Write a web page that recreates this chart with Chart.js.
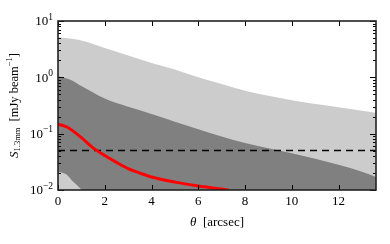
<!DOCTYPE html>
<html>
<head>
<meta charset="utf-8">
<script src="https://cdn.jsdelivr.net/npm/chart.js@4/dist/chart.umd.min.js"></script>
<style>
  html, body { margin: 0; padding: 0; background: #fff; }
  #wrap { width: 390px; height: 244px; position: relative; }
</style>
</head>
<body>
<div id="wrap"><canvas id="chart"></canvas></div>
<script>
// x positions (arcsec) and fluxes (mJy/beam)
const upperTheta = [0, 0.2, 1, 2, 3, 4, 5, 6, 7, 8, 9, 10, 11, 12, 13, 13.6];
const upperFlux = [5.1, 5.05, 4.5, 3.3, 2.45, 1.8, 1.38, 1.0, 0.76, 0.58, 0.47, 0.39, 0.335, 0.295, 0.255, 0.235];

const middleTheta = [0, 0.1, 0.6, 1, 2, 3, 4, 5, 6, 7, 8, 9, 10, 11, 12, 13, 13.6];
const middleFlux = [1.05, 1.02, 0.88, 0.7, 0.42, 0.3, 0.224, 0.163, 0.12, 0.089, 0.068, 0.055, 0.045, 0.036, 0.028, 0.021, 0.017];

const lowerTheta = [0, 0.2, 0.4, 0.65, 0.85, 1.02];
const lowerFlux = [0.021, 0.0202, 0.0183, 0.014, 0.0118, 0.01];

const modelTheta = [0, 0.4, 1, 1.5, 2, 2.5, 3, 3.5, 4, 5, 6, 7, 7.3];
const modelFlux = [0.148, 0.13, 0.085, 0.056, 0.041, 0.031, 0.024, 0.02, 0.017, 0.0138, 0.0118, 0.0104, 0.01];

const noiseLevel = 0.05;
const xTicks = [0, 2, 4, 6, 8, 10, 12];
const yDecades = [-2, -1, 0, 1];

const xMax = 13.6;

function pts(xs, ys) {
  return xs.map((x, i) => ({ x: x, y: ys[i] }));
}

const serif = '"Liberation Serif", "DejaVu Serif", serif';

// frame, inward ticks and LaTeX-ish labels
const axesPlugin = {
  id: 'axesPlugin',
  afterDraw(chart) {
    const ctx = chart.ctx;
    const a = chart.chartArea;
    const xs = chart.scales.x;
    const ys = chart.scales.y;
    ctx.save();
    ctx.strokeStyle = '#000';
    ctx.lineWidth = 1;

    // x ticks top and bottom
    xTicks.forEach(t => {
      const px = Math.round(xs.getPixelForValue(t)) + 0.5;
      ctx.beginPath();
      ctx.moveTo(px, a.bottom); ctx.lineTo(px, a.bottom - 5);
      ctx.moveTo(px, a.top); ctx.lineTo(px, a.top + 5);
      ctx.stroke();
    });

    // y ticks left and right (major and minor)
    yDecades.forEach(d => {
      for (let m = 1; m <= 9; m++) {
        const v = m * Math.pow(10, d);
        if (v > 10.0001) continue;
        const py = Math.round(ys.getPixelForValue(v)) + 0.5;
        const len = m === 1 ? 6 : 3;
        ctx.beginPath();
        ctx.moveTo(a.left, py); ctx.lineTo(a.left + len, py);
        ctx.moveTo(a.right, py); ctx.lineTo(a.right - len, py);
        ctx.stroke();
      }
    });

    // frame
    ctx.lineWidth = 1.6;
    ctx.strokeStyle = '#222';
    ctx.strokeRect(a.left, a.top, a.right - a.left, a.bottom - a.top);

    ctx.fillStyle = '#000';
    // x tick labels
    ctx.font = '13px ' + serif;
    ctx.textAlign = 'center';
    ctx.textBaseline = 'top';
    xTicks.forEach(t => {
      ctx.fillText(String(t), xs.getPixelForValue(t), a.bottom + 5);
    });

    // y tick labels: 10^d
    yDecades.forEach(d => {
      const py = ys.getPixelForValue(Math.pow(10, d));
      const exp = d < 0 ? '\u2212' + (-d) : String(d);
      ctx.font = '9.5px ' + serif;
      const ew = ctx.measureText(exp).width;
      ctx.font = '13px ' + serif;
      const bw = ctx.measureText('10').width;
      const right = a.left - 5;
      ctx.textAlign = 'left';
      ctx.textBaseline = 'middle';
      ctx.fillText('10', right - ew - bw, py + 1);
      ctx.font = '9.5px ' + serif;
      ctx.fillText(exp, right - ew, py - 4);
    });

    // x title
    ctx.textBaseline = 'alphabetic';
    ctx.font = 'italic 13px ' + serif;
    const th = '\u03b8';
    const thW = ctx.measureText(th).width;
    ctx.font = '13px ' + serif;
    const rest = '  [arcsec]';
    const rW = ctx.measureText(rest).width;
    const cx = (a.left + a.right) / 2;
    let x0 = cx - (thW + rW) / 2;
    ctx.textAlign = 'left';
    ctx.font = 'italic 13px ' + serif;
    ctx.fillText(th, x0, 226);
    ctx.font = '13px ' + serif;
    ctx.fillText(rest, x0 + thW, 226);

    // y title, rotated
    ctx.translate(15, (a.top + a.bottom) / 2);
    ctx.rotate(-Math.PI / 2);
    const parts = [
      { t: 'S', f: 'italic 13px ', dy: 0 },
      { t: '1.3mm', f: '8.5px ', dy: 3 },
      { t: '  [mJy beam', f: '12.5px ', dy: 0 },
      { t: '\u22121', f: '8.5px ', dy: -5 },
      { t: ']', f: '12.5px ', dy: 0 }
    ];
    let total = 0;
    parts.forEach(p => { ctx.font = p.f + serif; p.w = ctx.measureText(p.t).width; total += p.w; });
    let px = -total / 2;
    ctx.textBaseline = 'middle';
    parts.forEach(p => {
      ctx.font = p.f + serif;
      ctx.fillText(p.t, px, p.dy);
      px += p.w;
    });
    ctx.restore();
  }
};

new Chart(document.getElementById('chart'), {
  type: 'line',
  data: {
    datasets: [
      {
        label: 'model',
        data: pts(modelTheta, modelFlux),
        borderColor: '#ff0000',
        borderWidth: 3,
        pointRadius: 0,
        fill: false,
        cubicInterpolationMode: 'monotone',
        order: 0
      },
      {
        label: 'noise',
        data: pts([0, xMax], [noiseLevel, noiseLevel]),
        borderColor: '#000',
        borderWidth: 1.5,
        borderDash: [7, 5],
        pointRadius: 0,
        fill: false,
        order: 1
      },
      {
        label: 'lower',
        data: pts(lowerTheta, lowerFlux),
        borderWidth: 0,
        borderColor: 'rgba(0,0,0,0)',
        backgroundColor: '#cccccc',
        pointRadius: 0,
        fill: 'start',
        cubicInterpolationMode: 'monotone',
        order: 2
      },
      {
        label: 'middle',
        data: pts(middleTheta, middleFlux),
        borderWidth: 0,
        borderColor: 'rgba(0,0,0,0)',
        backgroundColor: '#808080',
        pointRadius: 0,
        fill: 'start',
        cubicInterpolationMode: 'monotone',
        order: 3
      },
      {
        label: 'upper',
        data: pts(upperTheta, upperFlux),
        borderWidth: 0,
        borderColor: 'rgba(0,0,0,0)',
        backgroundColor: '#cccccc',
        pointRadius: 0,
        fill: 'start',
        cubicInterpolationMode: 'monotone',
        order: 4
      }
    ]
  },
  options: {
    responsive: true,
    maintainAspectRatio: false,
    animation: false,
    layout: { padding: { left: 58, top: 21, right: 14, bottom: 54 } },
    plugins: { legend: { display: false }, tooltip: { enabled: false } },
    scales: {
      x: { type: 'linear', min: 0, max: xMax, display: false },
      y: { type: 'logarithmic', min: 0.01, max: 10, display: false }
    }
  },
  plugins: [axesPlugin]
});
</script>
</body>
</html>
